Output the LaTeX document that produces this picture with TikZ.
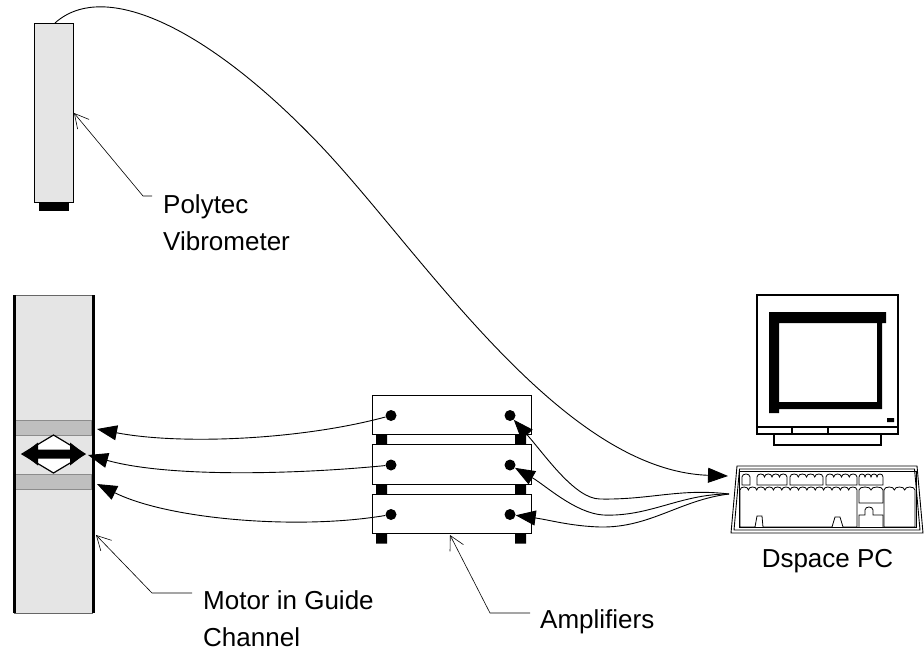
\documentclass[tikz,border=0pt]{standalone}
\usepackage{fontspec}
\setmainfont{Liberation Sans}
\usetikzlibrary{arrows.meta}

\begin{document}
\begin{tikzpicture}[x=1pt, y=-1pt,
	wire/.style={line width=0.9pt, -{Triangle[length=20pt, width=15pt]}},
	leader/.style={line width=0.6pt, -{Straight Barb[length=14pt, width=15pt, line width=0.6pt]}},
	jack/.style={circle, fill, inner sep=0pt, minimum size=11pt},
	lbl/.style={font=\fontsize{26}{37}\selectfont, inner sep=0pt, align=left, anchor=base west}]

	\useasboundingbox (0,0) rectangle (924,651);

	% vibrometer head
	\draw[fill=black!10, line width=0.8pt] (34,23) rectangle (73,202);
	\fill (39,202) rectangle (69,211);
	\coordinate (vibtop) at (55,23);
	\coordinate (vibside) at (74,113);

	% guide channel with the motor
	\fill[black!10] (14,295) rectangle (93,613);
	\draw[black!60, line width=0.6pt] (14,295) -- (93,295) (14,613) -- (93,613);
	\foreach \y in {420,474}
		\draw[fill=black!25, draw=black!45, line width=0.5pt] (15.5,\y) rectangle (91.5,\y+15);
	\draw[line width=3pt] (14,295) -- (14,613) (93,295) -- (93,613);
	\draw[fill=white, line width=1.2pt] (53.5,435) -- (85,454) -- (53.5,473) -- (22,454) -- cycle;
	\fill (23,454) -- (38,442.5) -- (38,449.5) -- (70,449.5) -- (70,442.5) -- (85,454)
		-- (70,465.5) -- (70,458.5) -- (38,458.5) -- (38,465.5) -- cycle;
	\coordinate (mtr1) at (97,429);
	\coordinate (mtr2) at (88,455);
	\coordinate (mtr3) at (97,484);
	\coordinate (mtrside) at (96,535);

	% amplifier stack
	\foreach \t [count=\i] in {395,444.5,494} {
		\draw[fill=white, line width=0.8pt] (372,\t) rectangle (531,\t+39.5);
		\fill (376,\t+39.5) rectangle (387,\t+49.5) (515,\t+39.5) rectangle (526,\t+49.5);
		\node[jack] (out\i) at (391,\t+20.5) {};
		\node[jack] (in\i) at (510,\t+20.5) {};
	}
	\coordinate (ampbot) at (450,535);

	% monitor
	\draw[line width=1.1pt] (757,295) rectangle (898,434);
	\draw[line width=1.1pt] (757,427) -- (898,427) (792,427) -- (792,434) (828,427) -- (828,434);
	\draw[line width=1.1pt] (774,434) rectangle (881,445);
	\fill (769,312) rectangle (886,323) (769,312) rectangle (779,413)
		(775,402) rectangle (882,409) (877,317) rectangle (882,409) (887,418) rectangle (894,422);

	% keyboard
	\draw[line width=0.9pt] (731,533) -- (737,466) -- (917,466) -- (923,533) -- cycle;
	\draw[line width=0.9pt] (734,530) -- (739.5,469) -- (914.5,469) -- (920,530) -- cycle;
	\draw[line width=0.8pt] (739,471) rectangle (916,527);
	\draw[line width=0.8pt] (742,485) -- (742,477) .. controls (742,473) and (750,473) .. (750,477) -- (750,485) -- cycle;
	\foreach \a/\b/\n/\top/\bot in {757/787/4/477/485, 790/823/4/477/485, 826/857/4/477/485,
			859/883/4/477/485, 859/883/2/490/503, 884/915/3/490/527} {
		\pgfmathsetmacro\w{(\b-\a)/\n}
		\draw[line width=0.8pt] (\a,\bot) -- (\a,\top)
			\foreach \k in {1,...,\n} { .. controls (\a+\w*\k-\w,\top-4) and (\a+\w*\k,\top-4) .. (\a+\w*\k,\top) }
			-- (\b,\bot) -- cycle;
	}
	\draw[line width=0.8pt] (740,527) -- (740,490)
		\foreach \k in {1,...,14} { .. controls (740+8.36*\k-8.36,486) and (740+8.36*\k,486) .. (740+8.36*\k,490) }
		-- (857,527) -- (843,527) -- (840,517) -- (835,517) -- (832,527)
		-- (763,527) -- (762,516) -- (757,516) -- (755,527) -- cycle;
	\draw[line width=0.8pt] (859,527) -- (859,515) -- (865,515) -- (865,510)
		.. controls (865,506) and (873,506) .. (873,510) -- (873,515) -- (883,515) -- (883,527);
	\coordinate (kbin) at (728,476);
	\coordinate (kbout) at (729,494);

	% cables
	\draw[wire] (vibtop) .. controls (105,-22) and (210,29.5) .. (320,145)
		.. controls (420,250) and (560,470) .. (kbin);
	\draw[wire] (out1) .. controls (300,440) and (180,445) .. (mtr1);
	\draw[wire] (out2) .. controls (300,474) and (170,478) .. (mtr2);
	\draw[wire] (out3) .. controls (300,530) and (170,520) .. (mtr3);
	\draw[wire] (kbout) .. controls (680,488) and (650,500) .. (600,499)
		.. controls (575,499) and (545,455) .. (in1);
	\draw[wire] (kbout) .. controls (680,494) and (650,517) .. (603,515)
		.. controls (575,513) and (545,485) .. (in2);
	\draw[wire] (kbout) .. controls (680,500) and (650,528) .. (600,527)
		.. controls (570,526) and (550,520) .. (in3);

	% labels
	\node[lbl] (vibLbl) at (163,250) {Polytec\\Vibrometer};
	\node[lbl] (motLbl) at (203,646) {Motor in Guide\\Channel};
	\node[lbl] (ampLbl) at (540,628) {Amplifiers};
	\node[lbl, anchor=base] (pcLbl) at (827.5,567) {Dspace PC};
	\coordinate (vibKnee) at (152,196);
	\coordinate (motKnee) at (192,593);
	\coordinate (ampKnee) at (530,613);
	\draw[leader] (vibKnee) -- ++(-9,0) -- (vibside);
	\draw[leader] (motKnee) -- ++(-40,0) -- (mtrside);
	\draw[leader] (ampKnee) -- ++(-40,0) -- (ampbot);
\end{tikzpicture}
\end{document}
